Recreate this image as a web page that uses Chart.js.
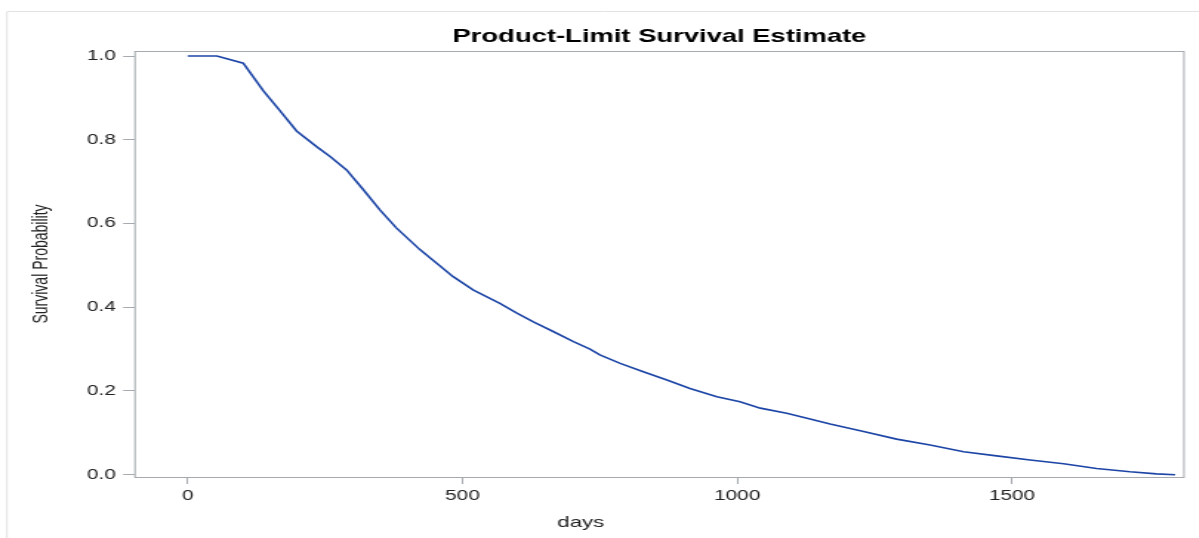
<!DOCTYPE html>
<html>
<head>
<meta charset="utf-8">
<script src="https://cdn.jsdelivr.net/npm/chart.js@4.4.0/dist/chart.umd.min.js"></script>
<style>
  html, body { margin: 0; padding: 0; background: #fff; overflow: hidden; }
  #wrap { position: absolute; left: 0; top: 0; height: 538px; transform-origin: 0 0; }
</style>
</head>
<body>
<div id="wrap"><canvas id="km"></canvas></div>
<script>
// values
var days     = [0, 53, 101, 138, 168, 198, 235, 259, 289, 320, 350, 380, 423, 453, 483, 520, 568, 599, 629, 665, 702, 732, 750, 787, 829, 872, 914, 963, 1005, 1042, 1090, 1127, 1169, 1230, 1290, 1351, 1412, 1472, 1533, 1594, 1654, 1715, 1763, 1797];
var survival = [1.0, 1.0, 0.983, 0.916, 0.869, 0.821, 0.783, 0.760, 0.728, 0.680, 0.632, 0.589, 0.537, 0.505, 0.473, 0.441, 0.409, 0.386, 0.365, 0.342, 0.318, 0.300, 0.286, 0.266, 0.246, 0.226, 0.206, 0.186, 0.174, 0.159, 0.147, 0.135, 0.121, 0.103, 0.085, 0.071, 0.055, 0.045, 0.035, 0.026, 0.015, 0.007, 0.002, 0.0];
var xTicks = [0, 500, 1000, 1500];
var yTicks = [0.0, 0.2, 0.4, 0.6, 0.8, 1.0];
var titleText = 'Product-Limit Survival Estimate';
var xTitle = 'days';
var yTitle = 'Survival Probability';

// the reference is stretched sideways, so draw narrow and stretch
var K = 1.48;
var W = 1199 / K;
var wrap = document.getElementById('wrap');
wrap.style.width = W + 'px';
wrap.style.transform = 'scaleX(' + K + ')';

var FONT = '"Liberation Sans", Arial, sans-serif';
var AXIS = '#a6aaae';

var decor = {
  id: 'decor',
  beforeDraw: function (chart) {
    var ctx = chart.ctx;
    ctx.save();
    ctx.fillStyle = '#fff';
    ctx.fillRect(0, 0, chart.width, chart.height);
    ctx.strokeStyle = '#e2e2e2';
    ctx.lineWidth = 1;
    ctx.beginPath();
    ctx.moveTo(7 / K, chart.height);
    ctx.lineTo(7 / K, 11.5);
    ctx.lineTo(chart.width, 11.5);
    ctx.stroke();
    ctx.restore();
  },
  afterDraw: function (chart) {
    var ctx = chart.ctx, a = chart.chartArea;
    ctx.save();
    ctx.strokeStyle = AXIS;
    ctx.lineWidth = 1;
    ctx.strokeRect(a.left, a.top + 0.5, a.right - a.left, a.bottom - a.top);
    ctx.fillStyle = '#000';
    ctx.textAlign = 'center';
    ctx.textBaseline = 'alphabetic';
    ctx.font = 'bold 18.5px ' + FONT;
    ctx.fillText(titleText, (a.left + a.right) / 2, 42);
    ctx.fillStyle = '#222';
    ctx.font = '15px ' + FONT;
    ctx.fillText(xTitle, a.left + 0.425 * (a.right - a.left), 526.5);
    ctx.restore();
  }
};

new Chart(document.getElementById('km'), {
  type: 'line',
  data: {
    datasets: [{
      label: 'Survival',
      data: days.map(function (d, i) { return { x: d, y: survival[i] }; }),
      borderColor: '#1c45a6',
      borderWidth: 1.6,
      pointRadius: 0,
      tension: 0,
      fill: false
    }]
  },
  options: {
    responsive: true,
    maintainAspectRatio: false,
    animation: false,
    layout: { padding: { top: 51, right: W - 800, bottom: 0, left: 0 } },
    plugins: {
      legend: { display: false },
      title: { display: false },
      tooltip: { enabled: false }
    },
    scales: {
      x: {
        type: 'linear',
        min: -96,
        max: 1813,
        afterBuildTicks: function (s) { s.ticks = xTicks.map(function (v) { return { value: v }; }); },
        afterFit: function (s) { s.height = 538 - 477; },
        grid: { drawOnChartArea: false, color: AXIS, tickLength: 7 },
        border: { display: false },
        ticks: {
          color: '#222', padding: 4, font: { family: FONT, size: 14 },
          callback: function (v) { return String(v); }
        }
      },
      y: {
        min: -0.0055,
        max: 1.012,
        afterBuildTicks: function (s) { s.ticks = yTicks.map(function (v) { return { value: v }; }); },
        afterFit: function (s) { s.width = 135 / K; },
        grid: { drawOnChartArea: false, color: AXIS, tickLength: 8 },
        border: { display: false },
        ticks: {
          color: '#222', padding: 5, font: { family: FONT, size: 14 },
          callback: function (v) { return Number(v).toFixed(1); }
        },
        title: {
          display: true, text: yTitle, color: '#222',
          font: { family: FONT, size: 14 },
          padding: { top: 19.8, bottom: 0 }
        }
      }
    }
  },
  plugins: [decor]
});
</script>
</body>
</html>
